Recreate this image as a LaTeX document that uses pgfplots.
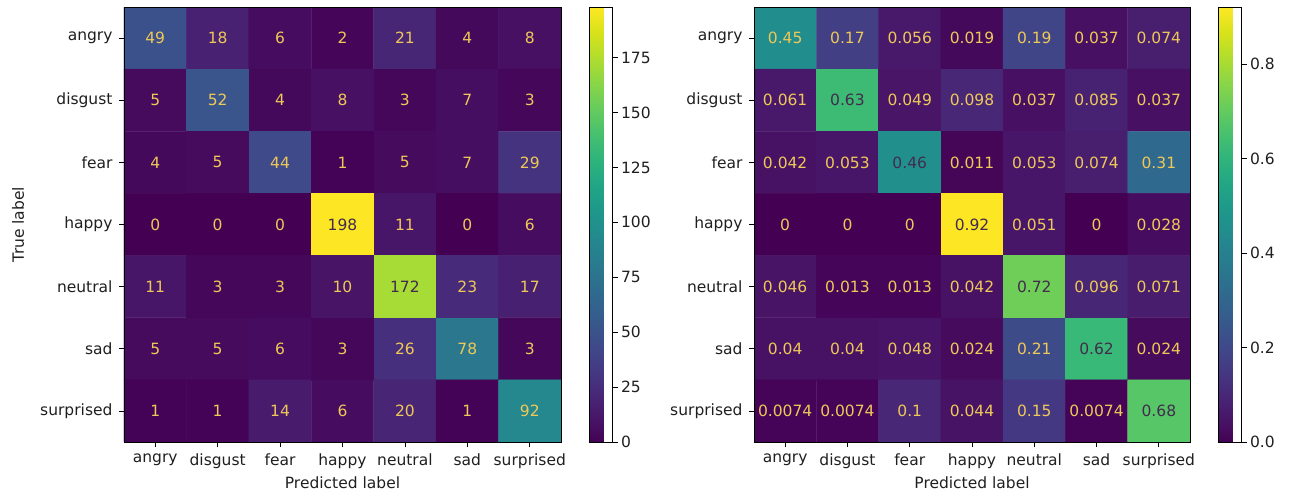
\documentclass[border=0pt]{standalone}
\usepackage{fontspec}
\setmainfont{DejaVu Sans}
\usepackage{pgfplots}
\usepackage{pgfplotstable}
\pgfplotsset{compat=1.18}
\definecolor{lightT}{RGB}{238,200,88}
\definecolor{darkT}{RGB}{66,44,78}

\pgfplotstableread{
x y c
0 0 49
1 0 18
2 0 6
3 0 2
4 0 21
5 0 4
6 0 8
0 1 5
1 1 52
2 1 4
3 1 8
4 1 3
5 1 7
6 1 3
0 2 4
1 2 5
2 2 44
3 2 1
4 2 5
5 2 7
6 2 29
0 3 0
1 3 0
2 3 0
3 3 198
4 3 11
5 3 0
6 3 6
0 4 11
1 4 3
2 4 3
3 4 10
4 4 172
5 4 23
6 4 17
0 5 5
1 5 5
2 5 6
3 5 3
4 5 26
5 5 78
6 5 3
0 6 1
1 6 1
2 6 14
3 6 6
4 6 20
5 6 1
6 6 92
}\leftM

\pgfplotstableread{
x y c
0 0 0.45
1 0 0.17
2 0 0.056
3 0 0.019
4 0 0.19
5 0 0.037
6 0 0.074
0 1 0.061
1 1 0.63
2 1 0.049
3 1 0.098
4 1 0.037
5 1 0.085
6 1 0.037
0 2 0.042
1 2 0.053
2 2 0.46
3 2 0.011
4 2 0.053
5 2 0.074
6 2 0.31
0 3 0
1 3 0
2 3 0
3 3 0.92
4 3 0.051
5 3 0
6 3 0.028
0 4 0.046
1 4 0.013
2 4 0.013
3 4 0.042
4 4 0.72
5 4 0.096
6 4 0.071
0 5 0.04
1 5 0.04
2 5 0.048
3 5 0.024
4 5 0.21
5 5 0.62
6 5 0.024
0 6 0.0074
1 6 0.0074
2 6 0.1
3 6 0.044
4 6 0.15
5 6 0.0074
6 6 0.68
}\rightM

\newcommand{\fs}{\fontsize{15.5}{18}\selectfont}

\pgfplotsset{
  cm/.style={
    scale only axis, height=435pt,
    xmin=-0.5, xmax=6.5, ymin=-0.5, ymax=6.5, y dir=reverse,
    enlargelimits=false,
    xtick={0,...,6}, ytick={0,...,6},
    xticklabels={angry,disgust,fear,happy,neutral,sad,surprised},
    yticklabels={angry,disgust,fear,happy,neutral,sad,surprised},
    tick align=outside, tick pos=left, major tick length=5pt,
    tick style={black, line width=0.8pt},
    axis line style={black, line width=0.8pt},
    ticklabel style={font=\fs, text=black!88},
    xticklabel style={yshift=-3pt},
    yticklabel style={xshift=-3pt},
    label style={font=\fs, text=black!88},
    colormap/viridis,
    axis on top,
    xlabel={Predicted label},
    xlabel style={at={(axis description cs:0.5,-0.094)}, anchor=center},
  },
  cbar/.style={
    colorbar style={
      at={(parent axis.north east)}, anchor=north west, xshift=20pt,
      scale only axis, width=23pt, height=435pt,
      tick align=outside, ytick pos=right, yticklabel pos=right,
      major tick length=5pt,
      tick style={black, line width=0.8pt},
      axis line style={black, line width=0.8pt},
      ticklabel style={font=\fs, text=black!88},
      /pgf/number format/assume math mode=true,
      #1
    }
  },
  txt/.style={only marks, mark=none,
    nodes near coords, point meta=explicit symbolic,
    nodes near coords align={center},
    every node near coord/.append style={font=\fs, text=#1, inner sep=0pt}},
}

\begin{document}
\begin{tikzpicture}
\useasboundingbox (0,0) rectangle (1293pt,494pt);
% left matrix
\begin{axis}[cm, at={(124pt,52pt)}, anchor=south west, width=437pt,
  point meta min=0, point meta max=198,
  ylabel={True label},
  ylabel style={at={(axis description cs:-0.2426,0.5)}, anchor=center},
  colorbar, cbar={ytick={0,25,50,75,100,125,150,175}}]
\addplot[matrix plot*, mesh/cols=7, point meta=explicit] table[x=x, y=y, meta=c] {\leftM};
\addplot[txt=lightT, x filter/.expression={and(\thisrow{x}==\thisrow{y}, \thisrow{c}>99) ? nan : x}] table[x=x, y=y, meta=c] {\leftM};
\addplot[txt=darkT, x filter/.expression={and(\thisrow{x}==\thisrow{y}, \thisrow{c}>99) ? x : nan}] table[x=x, y=y, meta=c] {\leftM};
\end{axis}
% right matrix
\begin{axis}[cm, at={(754pt,52pt)}, anchor=south west, width=436pt,
  point meta min=0, point meta max=0.9209,
  colorbar, cbar={ytick={0,0.2,0.4,0.6,0.8},
    yticklabel style={/pgf/number format/.cd, fixed, fixed zerofill, precision=1}}]
\addplot[matrix plot*, mesh/cols=7, point meta=explicit] table[x=x, y=y, meta=c] {\rightM};
\addplot[txt=lightT, x filter/.expression={and(\thisrow{x}==\thisrow{y}, \thisrow{c}>0.455) ? nan : x}] table[x=x, y=y, meta=c] {\rightM};
\addplot[txt=darkT, x filter/.expression={and(\thisrow{x}==\thisrow{y}, \thisrow{c}>0.455) ? x : nan}] table[x=x, y=y, meta=c] {\rightM};
\end{axis}
\end{tikzpicture}
\end{document}
